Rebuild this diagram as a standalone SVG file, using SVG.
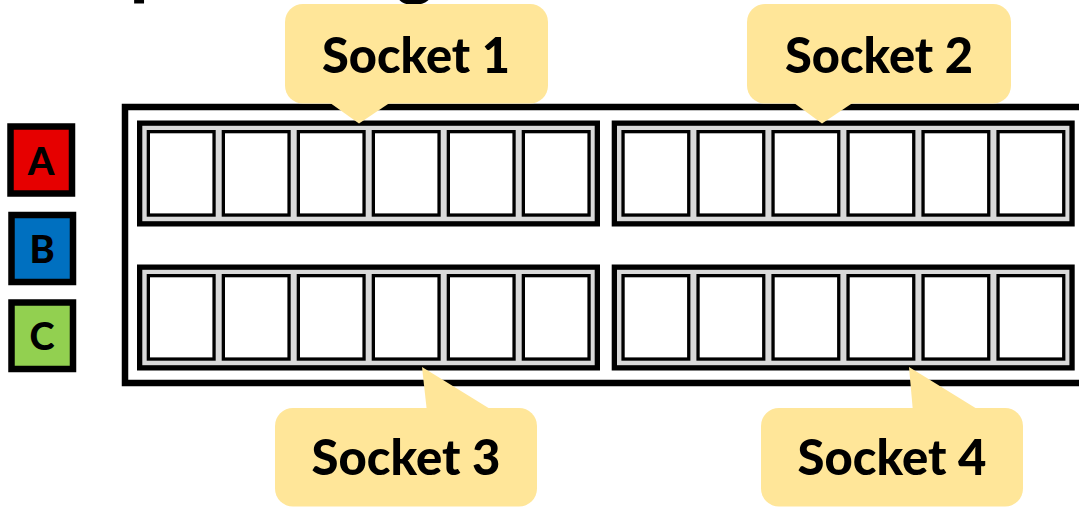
<svg xmlns="http://www.w3.org/2000/svg" xmlns:xlink="http://www.w3.org/1999/xlink" width="1079" height="507" viewBox="0 0 1079 507">
  <style>
    .frame { fill: #ffffff; stroke: #000000; stroke-width: 6.5; }
    .panel { fill: #d9d9d9; stroke: #000000; stroke-width: 5.3; }
    .cell { fill: #ffffff; stroke: #000000; stroke-width: 3.3; }
    .callout { fill: #ffe699; stroke: none; }
    .label { font-family: Lato, "Open Sans", "Liberation Sans", sans-serif; font-weight: 900; font-size: 50px; fill: #000000; text-anchor: middle; }
    .key { stroke: #000000; stroke-width: 6.5; }
    .keytext { font-family: Lato, "Open Sans", "Liberation Sans", sans-serif; font-weight: 900; font-size: 38px; fill: #000000; text-anchor: middle; }
    .title { font-family: Lato, "Liberation Sans", sans-serif; font-weight: 900; font-size: 72px; fill: #000000; }
  </style>
  <defs>
    <!-- one socket: grey tray holding six white slots -->
    <g id="socket-shape">
      <rect class="panel" x="2.65" y="2.65" width="457.7" height="100.7"/>
      <rect class="cell" x="11.35" y="11.15" width="65.7" height="83.4"/>
      <rect class="cell" x="86.35" y="11.15" width="65.7" height="83.4"/>
      <rect class="cell" x="161.35" y="11.15" width="65.7" height="83.4"/>
      <rect class="cell" x="236.35" y="11.15" width="65.7" height="83.4"/>
      <rect class="cell" x="311.35" y="11.15" width="65.7" height="83.4"/>
      <rect class="cell" x="386.35" y="11.15" width="65.7" height="83.4"/>
    </g>
  </defs>

  <!-- heading line, mostly above the visible area -->
  <g id="heading">
    <text class="title" x="130" y="-9">p</text>
    <text class="title" x="396" y="-9">g</text>
  </g>

  <!-- legend -->
  <g id="key-a">
    <rect class="key" x="10.5" y="126.5" width="61.5" height="67" fill="#e60000"/>
    <text class="keytext" x="41" y="175">A</text>
  </g>
  <g id="key-b">
    <rect class="key" x="11.5" y="215" width="61.5" height="67" fill="#0070c0"/>
    <text class="keytext" x="42" y="263">B</text>
  </g>
  <g id="key-c">
    <rect class="key" x="11.5" y="302.5" width="61.5" height="66.5" fill="#92d050"/>
    <text class="keytext" x="42" y="350">C</text>
  </g>

  <!-- board outline -->
  <g id="board">
    <rect class="frame" x="125" y="107" width="980" height="276"/>
  </g>

  <!-- the four sockets -->
  <g id="socket-1"><use xlink:href="#socket-shape" x="137" y="120.5"/></g>
  <g id="socket-2"><use xlink:href="#socket-shape" x="611.7" y="120.5"/></g>
  <g id="socket-3"><use xlink:href="#socket-shape" x="137" y="264.5"/></g>
  <g id="socket-4"><use xlink:href="#socket-shape" x="611.7" y="264.5"/></g>

  <!-- callout pointers -->
  <g id="connectors">
    <polygon class="callout" points="326,100 359,123.5 394,100"/>
    <polygon class="callout" points="790,100 822,123.5 857,100"/>
    <polygon class="callout" points="427,412 422,367 495,412"/>
    <polygon class="callout" points="913,412 909,367 982,412"/>
  </g>

  <!-- callouts -->
  <g id="callout-1">
    <rect class="callout" x="285" y="4" width="263" height="99.5" rx="18"/>
    <text class="label" x="416" y="73" textLength="188" lengthAdjust="spacingAndGlyphs">Socket 1</text>
  </g>
  <g id="callout-2">
    <rect class="callout" x="747" y="4" width="264" height="99.5" rx="18"/>
    <text class="label" x="879" y="73" textLength="188" lengthAdjust="spacingAndGlyphs">Socket 2</text>
  </g>
  <g id="callout-3">
    <rect class="callout" x="275" y="408" width="262" height="98.5" rx="18"/>
    <text class="label" x="406" y="475" textLength="189" lengthAdjust="spacingAndGlyphs">Socket 3</text>
  </g>
  <g id="callout-4">
    <rect class="callout" x="761" y="408" width="262" height="98.5" rx="18"/>
    <text class="label" x="892" y="475" textLength="189" lengthAdjust="spacingAndGlyphs">Socket 4</text>
  </g>
</svg>
